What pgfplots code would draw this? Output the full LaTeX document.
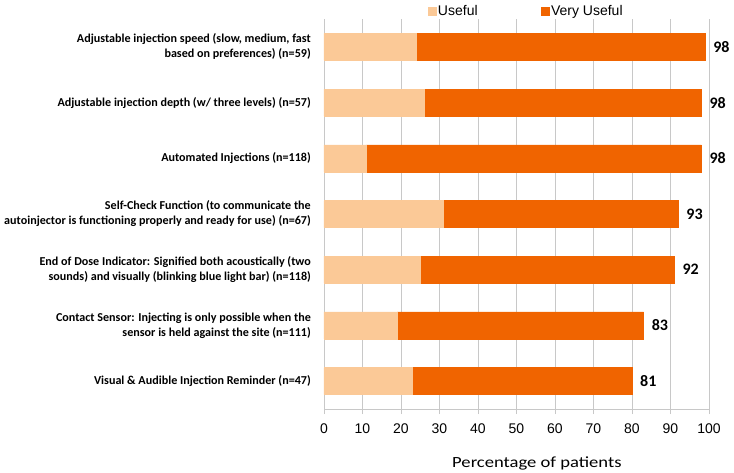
\documentclass[border=0pt]{standalone}
\usepackage{pgfplots}
\pgfplotsset{compat=1.18}
\usepackage{fontspec}
\setmainfont{Carlito}
\newfontfamily\arialf{Liberation Sans}
\newfontfamily\xlabfont[FakeStretch=1.2]{Carlito}
\definecolor{useful}{RGB}{251,201,151}
\definecolor{vuseful}{RGB}{240,100,0}
\definecolor{gridc}{RGB}{200,200,200}
\begin{document}
\begin{tikzpicture}
\path[use as bounding box] (0pt,0pt) rectangle (734pt,473pt);
\begin{axis}[
  at={(324pt,64pt)}, anchor=south west,
  scale only axis, width=385pt, height=390pt,
  xbar stacked, bar width=27pt,
  xmin=0, xmax=100, ymin=-0.5, ymax=6.5, y dir=reverse,
  xtick={0,10,...,100},
  ytick={0,...,6},
  yticklabels={
    {Adjustable injection speed (slow, medium, fast\\based on preferences) (n=59)},
    {Adjustable injection depth (w/ three levels) (n=57)},
    {Automated Injections (n=118)},
    {Self-Check Function (to communicate the\\autoinjector is functioning properly and ready for use) (n=67)},
    {End of Dose Indicator: Signified both acoustically (two\\sounds) and visually (blinking blue light bar) (n=118)},
    {Contact Sensor: Injecting is only possible when the\\sensor is held against the site (n=111)},
    {Visual \& Audible Injection Reminder (n=47)}},
  yticklabel style={align=right, anchor=east, inner sep=0pt, xshift=-8pt,
    font=\bfseries\fontsize{12.1}{15}\selectfont},
  axis x line*=bottom, axis y line*=left,
  y axis line style={draw=none},
  x axis line style={draw=gridc, line width=0.8pt},
  ytick style={draw=none},
  xtick style={draw=gridc, line width=0.8pt},
  tick align=outside, major tick length=5pt,
  xmajorgrids, grid style={gridc, line width=0.8pt},
  /pgf/number format/assume math mode=true,
  xticklabel style={font=\arialf\fontsize{14}{14}\selectfont, anchor=base, yshift=-19pt},
  xlabel={Percentage of patients},
  xlabel style={font=\xlabfont\fontsize{15.5}{15.5}\selectfont, at={(axis description cs:0.553,0)}, anchor=base, yshift=-58pt},
  legend columns=2,
  legend style={draw=none, fill=none, at={(0.525,1)}, anchor=south, yshift=0.5pt,
    font=\arialf\fontsize{14}{14}\selectfont, inner sep=0pt,
    /tikz/every even column/.append style={column sep=62pt},
    nodes={inner sep=1.5pt}},
  legend image code/.code={\fill[#1] (0pt,-4pt) rectangle (8pt,4pt);},
]
\addplot[fill=useful, draw=useful] coordinates {(24,0) (26,1) (11,2) (31,3) (25,4) (19,5) (23,6)};
\addlegendentry{Useful}
\addplot[fill=vuseful, draw=vuseful] coordinates {(75,0) (72,1) (87,2) (61,3) (66,4) (64,5) (57,6)};
\addlegendentry{Very Useful}
\end{axis}
\begin{axis}[
  at={(324pt,64pt)}, anchor=south west,
  scale only axis, width=385pt, height=390pt, hide axis,
  xbar, bar width=27pt,
  xmin=0, xmax=100, ymin=-0.5, ymax=6.5, y dir=reverse,
]
\addplot[draw=none, fill=none,
  nodes near coords, point meta=explicit symbolic,
  nodes near coords style={anchor=west, inner sep=0pt, xshift=8pt, text=black,
    font=\bfseries\fontsize{16}{16}\selectfont}]
  coordinates {(99,0) [98] (98,1) [98] (98,2) [98] (92,3) [93] (91,4) [92] (83,5) [83] (80,6) [81]};
\end{axis}
\end{tikzpicture}
\end{document}
